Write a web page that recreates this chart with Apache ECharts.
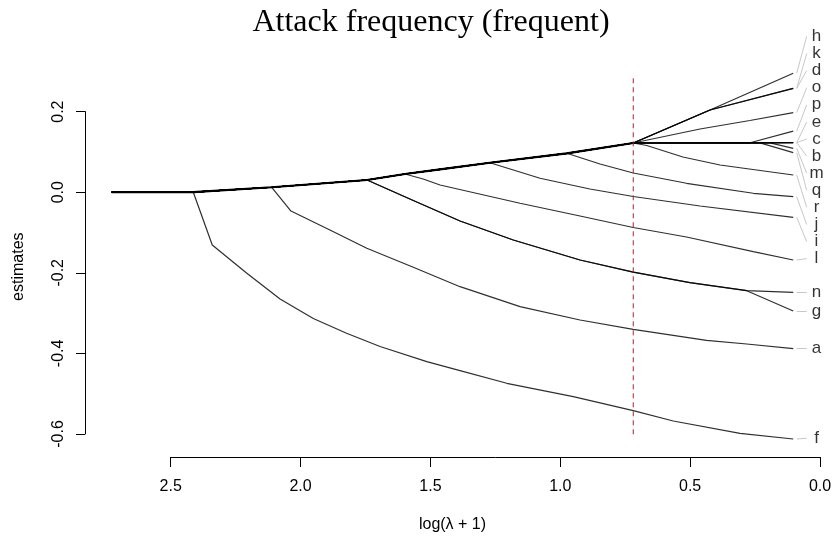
<!DOCTYPE html>
<html><head><meta charset="utf-8">
<script src="https://cdn.jsdelivr.net/npm/echarts@6/dist/echarts.min.js"></script>
<style>html,body{margin:0;padding:0;background:#fff}#c{width:835px;height:548px}</style>
</head><body><div id="c"></div>
<script>
const chartTitle = 'Attack frequency (frequent)';
const xTitle = 'log(\u03bb + 1)';
const yTitle = 'estimates';
const xTickValues = [2.5, 2.0, 1.5, 1.0, 0.5, 0.0];
const xTickLabels = ['2.5', '2.0', '1.5', '1.0', '0.5', '0.0'];
const yTickValues = [-0.6, -0.4, -0.2, 0.0, 0.2];
const yTickLabels = ['-0.6', '-0.4', '-0.2', '0.0', '0.2'];

// shared part of all paths: [log(lambda+1), estimate]
const trunk = [[2.727,0],[2.413,0],[2.111,0.0122],[1.744,0.0303],[1.598,0.0452],[1.463,0.0568],[1.271,0.0730],[0.975,0.0965],[0.719,0.1221]];

// each coefficient: last shared trunk index, then its own points
const coefNames = ['a','b','c','d','e','f','g','h','i','j','k','l','m','n','o','p','q','r'];
const trunkEnd = { a:2, b:8, c:8, d:8, e:8, f:1, g:3, h:8, i:6, j:7, k:8, l:4, m:8, n:3, o:8, p:8, q:8, r:8 };
const path_a = [[2.037,-0.0467],[1.887,-0.0938],[1.745,-0.1392],[1.566,-0.1864],[1.386,-0.2345],[1.155,-0.2841],[0.924,-0.3171],[0.719,-0.3402],[0.437,-0.3677],[0.282,-0.3767],[0.103,-0.3883]];
const path_b = [[0.270,0.1226],[0.103,0.1228]];
const path_c = [[0.270,0.1226],[0.103,0.1228]];
const path_d = [[0.4236,0.204],[0.103,0.2576]];
const path_e = [[0.270,0.1226],[0.103,0.1228]];
const path_f = [[2.340,-0.131],[2.208,-0.2005],[2.079,-0.265],[1.951,-0.3134],[1.823,-0.3499],[1.694,-0.3829],[1.514,-0.4206],[1.386,-0.4429],[1.206,-0.4742],[0.950,-0.5074],[0.719,-0.5422],[0.565,-0.5677],[0.308,-0.5983],[0.103,-0.6124]];
const path_g = [[1.566,-0.0206],[1.386,-0.0715],[1.181,-0.1186],[0.924,-0.1682],[0.719,-0.1985],[0.501,-0.2246],[0.282,-0.2444],[0.103,-0.2948]];
const path_h = [[0.4236,0.204],[0.103,0.2953]];
const path_i = [[1.078,0.0345],[0.886,0.0079],[0.719,-0.0107],[0.462,-0.0342],[0.103,-0.0623]];
const path_j = [[0.847,0.0700],[0.719,0.0476],[0.514,0.0221],[0.257,-0.0027],[0.103,-0.0112]];
const path_k = [[0.4236,0.204],[0.103,0.2576]];
const path_l = [[1.528,0.0328],[1.463,0.0179],[1.155,-0.0275],[0.924,-0.0591],[0.719,-0.0876],[0.514,-0.1112],[0.257,-0.1476],[0.103,-0.1682]];
const path_m = [[0.1925,0.1224],[0.103,0.1089]];
const path_n = [[1.566,-0.0206],[1.386,-0.0715],[1.181,-0.1186],[0.924,-0.1682],[0.719,-0.1985],[0.501,-0.2246],[0.282,-0.2444],[0.103,-0.2484]];
const path_o = [[0.655,0.1308],[0.462,0.1568],[0.270,0.1779],[0.103,0.1973]];
const path_p = [[0.2695,0.1226],[0.103,0.1514]];
const path_q = [[0.231,0.1225],[0.103,0.098]];
const path_r = [[0.667,0.1159],[0.528,0.0873],[0.385,0.0675],[0.103,0.0427]];
const ownPaths = { a:path_a, b:path_b, c:path_c, d:path_d, e:path_e, f:path_f, g:path_g, h:path_h, i:path_i, j:path_j, k:path_k, l:path_l, m:path_m, n:path_n, o:path_o, p:path_p, q:path_q, r:path_r };

// right-hand labels (top to bottom) and their vertical positions
const labelNames = ['h','k','d','o','p','e','c','b','m','q','r','j','i','l','n','g','a','f'];
const labelY = [0.3866,0.3441,0.3017,0.2593,0.2169,0.1744,0.1320,0.0896,0.0471,0.0047,-0.0377,-0.0802,-0.1226,-0.1650,-0.2484,-0.2948,-0.3873,-0.6107];

// selected lambda (dashed line)
const dashX = 0.719;
const dashY = [0.2826, -0.6107];

// layout constants
const LEAD_X0 = 0.0897, LEAD_X1 = 0.0512, LABEL_X = 0.0135;
const TITLE_FONT = 32, TITLE_CENTER = 431;

const fullPath = n => trunk.slice(0, trunkEnd[n] + 1).concat(ownPaths[n]);
const lookup = (vals, labs, v) => { for (let i = 0; i < vals.length; i++) if (Math.abs(vals[i] - v) < 1e-6) return labs[i]; return ''; };

const measureCtx = document.createElement('canvas').getContext('2d');
measureCtx.font = TITLE_FONT + 'px "Liberation Serif"';
const titleWidth = measureCtx.measureText(chartTitle).width;

const series = [];
coefNames.forEach(n => {
  series.push({
    name: n, type: 'line', xAxisIndex: 0, yAxisIndex: 0, data: fullPath(n),
    showSymbol: false, symbol: 'none', clip: false, silent: true, z: 3,
    lineStyle: { color: 'rgba(0,0,0,0.82)', width: 1.2 }
  });
});
series.push({
  name: 'shared', type: 'line', xAxisIndex: 0, yAxisIndex: 0, data: trunk,
  showSymbol: false, symbol: 'none', clip: false, silent: true, z: 4,
  lineStyle: { color: '#000', width: 2.2 }
});
series.push({
  name: 'selected', type: 'line', xAxisIndex: 0, yAxisIndex: 0,
  data: [[dashX, dashY[0]], [dashX, dashY[1]]],
  showSymbol: false, symbol: 'none', clip: false, silent: true, z: 5,
  lineStyle: { color: '#ff0000', width: 1, type: [5, 4] }
});
series.push({
  name: 'leaders', type: 'lines', coordinateSystem: 'cartesian2d', xAxisIndex: 0, yAxisIndex: 0,
  clip: false, silent: true, z: 2,
  lineStyle: { color: '#c8c8c8', width: 1, opacity: 1, curveness: 0 },
  data: labelNames.map((n, i) => {
    const p = fullPath(n); const last = p[p.length - 1];
    return { coords: [[LEAD_X0, last[1]], [LEAD_X1, labelY[i]]] };
  })
});
series.push({
  name: 'labels', type: 'scatter', xAxisIndex: 0, yAxisIndex: 0, symbolSize: 0, clip: false, silent: true,
  data: labelNames.map((n, i) => ({ name: n, value: [LABEL_X, labelY[i]] })),
  label: { show: true, position: 'inside', formatter: '{b}', color: '#000', fontSize: 17, fontFamily: 'Liberation Sans' }
});

const chart = echarts.init(document.getElementById('c'), null, { renderer: 'canvas' });
chart.setOption({
  animation: false,
  backgroundColor: '#fff',
  title: {
    text: chartTitle, left: TITLE_CENTER - titleWidth / 2, top: 7, padding: 0,
    textStyle: { fontFamily: 'Liberation Serif', fontSize: TITLE_FONT, fontWeight: 'normal', color: '#000' }
  },
  graphic: [{
    type: 'text', x: 18.3, y: 266.7, rotation: Math.PI / 2,
    style: { text: yTitle, fontFamily: 'Liberation Sans', fontSize: 16, fill: '#000', textAlign: 'center', textVerticalAlign: 'middle' }
  }],
  grid: [
    { left: 85, right: 15, top: 59.2, bottom: 93.86, outerBoundsMode: 'none', containLabel: false },
    { left: 170.7, right: 15, top: 456, height: 1, outerBoundsMode: 'none', containLabel: false },
    { left: 85, width: 1, top: 111.6, bottom: 114, outerBoundsMode: 'none', containLabel: false }
  ],
  xAxis: [
    { gridIndex: 0, type: 'value', inverse: true, min: 0, max: 2.83,
      axisLine: { show: false }, axisTick: { show: false }, axisLabel: { show: false }, splitLine: { show: false },
      name: xTitle, nameLocation: 'middle', nameGap: 62,
      nameTextStyle: { fontFamily: 'Liberation Sans', fontSize: 16, color: '#000' } },
    { gridIndex: 1, type: 'value', inverse: true, min: 0, max: 2.5, interval: 0.5,
      axisLine: { show: true, onZero: false, lineStyle: { color: '#000', width: 1 } },
      axisTick: { show: true, length: 10, lineStyle: { color: '#000', width: 1 } },
      axisLabel: { show: true, margin: 22, showMinLabel: true, showMaxLabel: true, color: '#000', fontSize: 16, fontFamily: 'Liberation Sans',
        formatter: v => lookup(xTickValues, xTickLabels, v) },
      splitLine: { show: false } },
    { gridIndex: 2, type: 'value', show: false, min: 0, max: 1 }
  ],
  yAxis: [
    { gridIndex: 0, type: 'value', min: -0.65, max: 0.33, show: false },
    { gridIndex: 1, type: 'value', show: false, min: 0, max: 1 },
    { gridIndex: 2, type: 'value', min: -0.6, max: 0.2, interval: 0.2,
      axisLine: { show: true, onZero: false, lineStyle: { color: '#000', width: 1 } },
      axisTick: { show: true, length: 9, lineStyle: { color: '#000', width: 1 } },
      axisLabel: { show: true, rotate: 90, margin: 18, showMinLabel: true, showMaxLabel: true, color: '#000', fontSize: 16, fontFamily: 'Liberation Sans',
        formatter: v => lookup(yTickValues, yTickLabels, v) },
      splitLine: { show: false } }
  ],
  series: series
});
</script>
</body></html>
